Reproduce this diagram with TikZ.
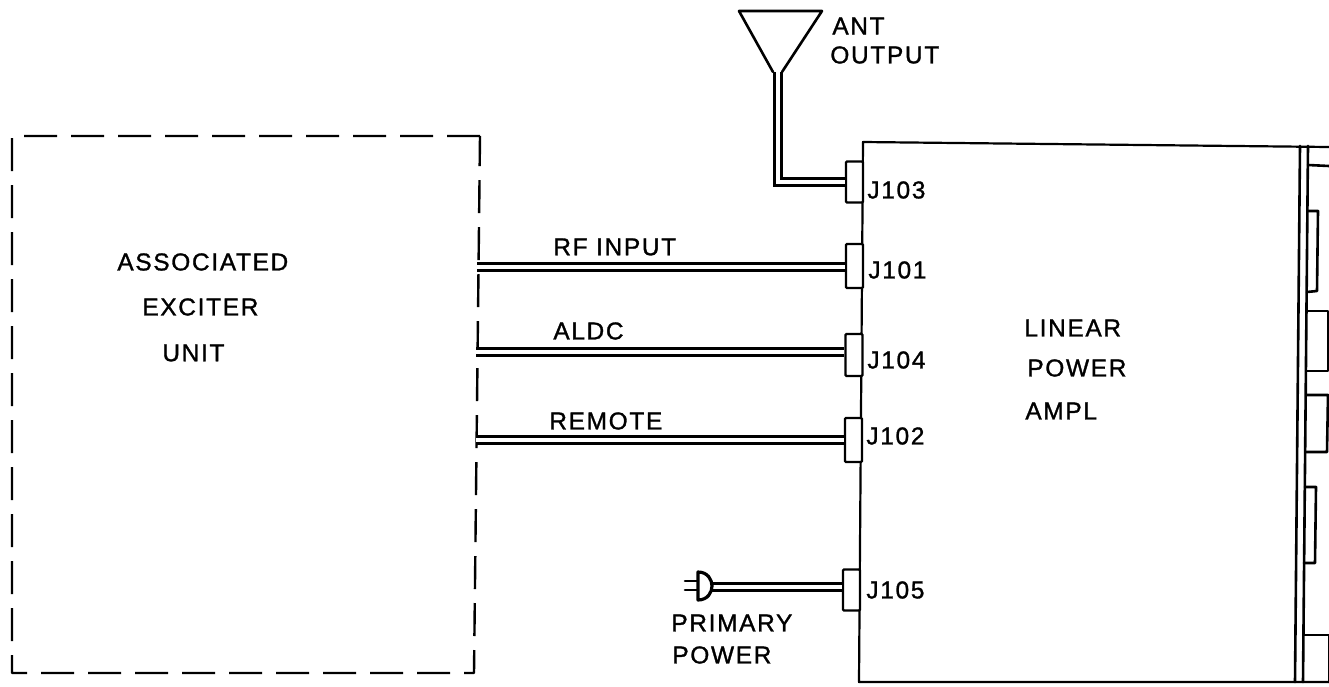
\documentclass[tikz,border=0pt]{standalone}
\usepackage{fontspec}
\setmainfont[LetterSpace=7,FakeBold=1.2]{Liberation Sans}
\tikzset{
  lbl/.style={anchor=west,inner sep=0pt,font=\fontsize{12.2pt}{14pt}\selectfont,text=black},
  ink/.style={line width=1.3pt,line join=round,line cap=round,black},
  thin ink/.style={line width=1.1pt,line join=round,line cap=round,black},
  jack/.style={draw=black,fill=white,line width=1.2pt,minimum width=8.5pt,inner sep=0pt,rounded corners=0.5pt},
  cable/.style={draw=black,line width=1.25pt,double=white,double distance=2.2pt,line join=miter},
  exdash/.style={line width=1.2pt,black,dash pattern=on 16.5pt off 7pt,line join=round},
}
\begin{document}
\begin{tikzpicture}[x=0.5pt,y=-0.5pt]
\useasboundingbox (0,0) rectangle (1329,686);
\fill[white] (0,0) rectangle (1329,686);
% exciter (dashed)
\coordinate (extl) at (12,136);
\coordinate (extr) at (480,136);
\coordinate (exbr) at (474,673);
\coordinate (exbl) at (12,673);
\draw[exdash] (extr) -- (extl) -- (exbl) -- (exbr) -- (extr);
% amplifier body
\coordinate (patl) at (863,142);
\coordinate (patr) at (1329,147);
\coordinate (pabl) at (859,682);
\coordinate (pabr) at (1329,682);
\draw[thin ink] (patr) -- (patl) -- (pabl) -- (pabr);
% right-hand panel
\draw[ink] (1300,146) -- (1295,682);
\draw[ink] (1308,146) -- (1303,682);
\draw[ink] (1308,165) -- (1329,166);
\draw[ink] (1308,211) -- (1318,211) -- (1317,291) -- (1307,292);
\draw[ink] (1307,311) -- (1328,311) -- (1328,371) -- (1307,371);
\draw[ink] (1307,395) -- (1328,395) -- (1327,452) -- (1306,452);
\draw[ink] (1305,487) -- (1316,487) -- (1315,563) -- (1304,563);
\draw[ink] (1304,635) -- (1329,635) -- (1329,682);
% jacks
\node[jack,minimum height=20.5pt] (j103) at (854.5,182) {};
\node[jack,minimum height=22pt] (j101) at (854.5,266) {};
\node[jack,minimum height=21pt] (j104) at (854,355) {};
\node[jack,minimum height=22pt] (j102) at (853.5,440) {};
\node[jack,minimum height=20.5pt] (j105) at (851.5,590) {};
% antenna
\coordinate (anta) at (739,11);
\coordinate (antb) at (822,11);
\coordinate (antl) at (773,72);
\coordinate (antr) at (782,72);
\coordinate (antf) at (778,72);
\draw[ink] (antl) -- (anta) -- (antb) -- (antr);
\draw[cable] (antf) |- (j103.west);
% cables
\coordinate (rfs) at (477,267);
\coordinate (als) at (476,352);
\coordinate (res) at (476,440);
\coordinate (pls) at (708,587);
\draw[cable] (rfs) -- (rfs-|j101.west);
\draw[cable] (als) -- (als-|j104.west);
\draw[cable] (res) -- (res-|j102.west);
\draw[cable] (pls) -- (pls-|j105.west);
% plug
\coordinate (plugt) at (698,572);
\coordinate (plugb) at (698,600);
\coordinate (plugn) at (712,586);
\draw[ink,fill=white,line width=1.6pt] (plugt) .. controls (708,572) and (712,580) .. (plugn) .. controls (712,592) and (708,600) .. (plugb) -- cycle;
\coordinate (pr1) at (685,581);
\coordinate (pr2) at (685,590);
\draw[ink] (pr1) -- (pr1-|plugt);
\draw[ink] (pr2) -- (pr2-|plugt);
% labels
\node[lbl] (t1) at (117,262) {ASSOCIATED};
\node[lbl] (t2) at (142,307) {EXCITER};
\node[lbl] (t3) at (162,353) {UNIT};
\node[lbl] (t4) at (1024,328) {LINEAR};
\node[lbl] (t5) at (1027,368) {POWER};
\node[lbl] (t6) at (1025,411) {AMPL};
\node[lbl] (l103) at (867,190) {J103};
\node[lbl] (l101) at (868,270) {J101};
\node[lbl] (l104) at (867,360) {J104};
\node[lbl] (l102) at (866,436) {J102};
\node[lbl] (l105) at (866,590) {J105};
\node[lbl] (t7) at (553,247) {RF INPUT};
\node[lbl] (t8) at (553,331) {ALDC};
\node[lbl] (t9) at (549,421) {REMOTE};
\node[lbl] (t10) at (832,26) {ANT};
\node[lbl] (t11) at (830,55) {OUTPUT};
\node[lbl] (t12) at (671,623) {PRIMARY};
\node[lbl] (t13) at (672,655) {POWER};
\end{tikzpicture}
\end{document}
